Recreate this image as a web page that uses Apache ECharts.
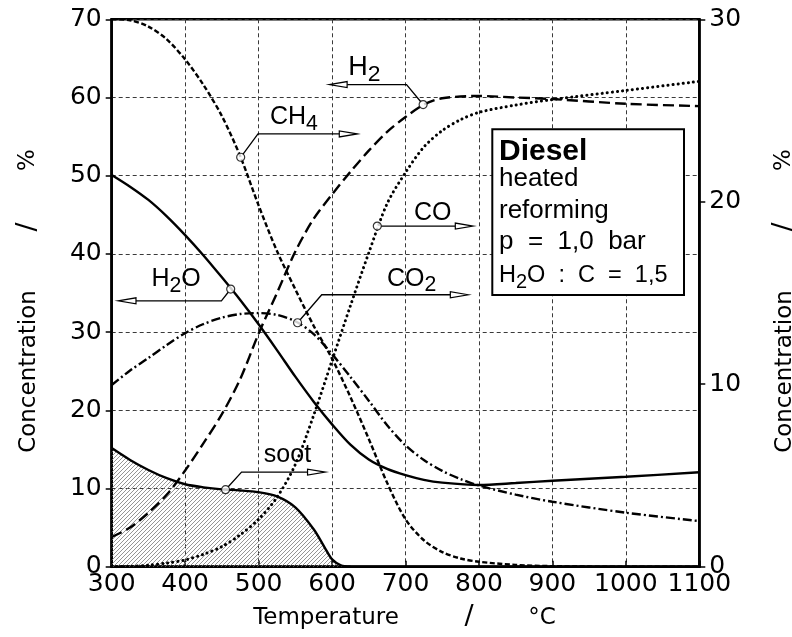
<!DOCTYPE html>
<html><head><meta charset="utf-8">
<script src="https://cdn.jsdelivr.net/npm/echarts/dist/echarts.min.js"></script>
<style>html,body{margin:0;padding:0;background:#fff}#c{width:792px;height:637px}</style>
</head><body><div id="c"></div>
<script>
// ---- data (temperature in °C, concentration in %) ----
const h2Temp  = [300,325,350,375,400,425,450,475,500,525,550,575,600,625,650,675,700,725,750,800,850,900,1000,1100];
const h2Val   = [3.8,5.0,6.9,9.2,12.3,15.8,19.5,24,29.8,35,40.3,44.5,47.6,50.5,53.2,55.6,57.5,59.1,59.9,60.2,60.0,59.8,59.2,58.9]; // left axis
const h2oTemp = [300,325,350,375,400,425,450,475,500,525,550,575,600,625,650,675,700,725,750,800,850,900,1000,1100];
const h2oVal  = [50.1,48.6,46.9,44.8,42.4,39.8,37,34.1,31,27.7,24.3,21.1,18.2,15.6,13.7,12.5,11.7,11.1,10.75,10.45,10.7,11.0,11.5,12.07]; // left axis
const ch4Temp = [300,325,350,375,400,425,450,475,500,525,550,575,600,625,650,675,700,725,750,775,800,850,900,1000,1100];
const ch4Val  = [30,29.95,29.6,28.9,27.8,26.4,24.7,22.5,19.8,17.3,15.2,13.2,11.4,9.3,7.0,4.6,2.6,1.45,0.8,0.45,0.27,0.1,0.03,0,0]; // right axis
const coTemp  = [300,325,350,375,400,425,450,475,500,525,550,575,600,625,650,675,700,725,750,775,800,850,900,1000,1100];
const coVal   = [0,0.02,0.08,0.2,0.37,0.68,1.1,1.75,2.6,3.8,5.6,8.3,11.3,14.3,17.2,19.9,21.6,23.0,23.9,24.5,24.9,25.3,25.6,26.1,26.6]; // right axis
const co2Temp = [300,325,350,375,400,425,450,475,500,525,550,575,600,625,650,675,700,725,750,775,800,850,900,1000,1100];
const co2Val  = [9.96,10.75,11.44,12.15,12.8,13.3,13.65,13.85,13.9,13.8,13.45,12.75,11.65,10.4,9.1,7.75,6.65,5.85,5.25,4.8,4.45,3.95,3.56,2.96,2.5]; // right axis
const sootTemp = [300,325,350,375,400,425,450,475,500,525,550,575,590,600,612,625];
const sootVal  = [6.5,5.85,5.3,4.85,4.52,4.35,4.24,4.18,4.08,3.85,3.25,2.05,1.05,0.4,0.08,0]; // right axis
const xTickValues = [300,400,500,600,700,800,900,1000,1100];
const leftTicks = [0,10,20,30,40,50,60,70];
const rightTicks = [0,10,20,30];
// marker points on curves: [temperature, value]
const markerH2   = [724, 59.1];
const markerCH4  = [475.6, 22.44];
const markerH2O  = [462, 35.5];
const markerCO   = [661.6, 18.67];
const markerCO2  = [553, 13.37];
const markerSoot = [455, 4.22];

function zip(t, v){ return t.map((x,i)=>[x, v[i]]); }

const TF = 'DejaVu Sans';
const LF = 'Liberation Sans';

const pat = document.createElement('canvas');
pat.width = 4; pat.height = 4;
(function(){
  const g = pat.getContext('2d');
  g.strokeStyle = '#7a7a7a'; g.lineWidth = 0.8;
  g.beginPath();
  g.moveTo(0,4); g.lineTo(4,0);
  g.moveTo(-1,1); g.lineTo(1,-1);
  g.moveTo(3,5); g.lineTo(5,3);
  g.stroke();
})();

const chart = echarts.init(document.getElementById('c'), null, {renderer:'canvas'});

const axisLabelStyle = {fontFamily:TF, fontSize:25, color:'#000', formatter:(v)=>String(v)};
const SM = 0.3;
const option = {
  animation:false,
  backgroundColor:'#fff',
  grid:{left:111.7, right:92.7, top:19.3, bottom:70.3, show:true, borderColor:'#000', borderWidth:2.5, outerBoundsMode:'none', containLabel:false},
  xAxis:{type:'value', min:xTickValues[0], max:xTickValues[xTickValues.length-1], interval:100,
    axisLine:{show:true, lineStyle:{color:'#000', width:2.5}},
    axisTick:{show:true, inside:true, length:6, lineStyle:{color:'#000', width:1.5}},
    axisLabel:Object.assign({margin:5, showMinLabel:true, showMaxLabel:true}, axisLabelStyle),
    splitLine:{show:true, lineStyle:{type:[4,3], color:'#3a3a3a', width:1}}},
  yAxis:[
    {type:'value', position:'left', min:leftTicks[0], max:leftTicks[leftTicks.length-1], interval:10,
     axisLine:{show:true, lineStyle:{color:'#000', width:2.5}},
     axisTick:{show:true, inside:false, length:6, lineStyle:{color:'#000', width:1.5}},
     axisLabel:Object.assign({margin:10, showMinLabel:true, showMaxLabel:true}, axisLabelStyle),
     splitLine:{show:true, lineStyle:{type:[4,3], color:'#3a3a3a', width:1}}},
    {type:'value', position:'right', min:rightTicks[0], max:rightTicks[rightTicks.length-1], interval:10,
     axisLine:{show:true, lineStyle:{color:'#000', width:2.5}},
     axisTick:{show:true, inside:false, length:6, lineStyle:{color:'#000', width:1.5}},
     axisLabel:Object.assign({margin:10, showMinLabel:true, showMaxLabel:true}, axisLabelStyle),
     splitLine:{show:false}}
  ],
  series:[
    {name:'soot', type:'line', yAxisIndex:1, data:zip(sootTemp,sootVal), smooth:SM, symbol:'none', z:1,
     lineStyle:{color:'#000', width:2.4}, areaStyle:{color:{image:pat, repeat:'repeat'}, opacity:1}},
    {name:'H2', type:'line', yAxisIndex:0, data:zip(h2Temp,h2Val), smooth:SM, symbol:'none', z:3,
     lineStyle:{color:'#000', width:2.4, type:[11,5]}},
    {name:'H2O', type:'line', yAxisIndex:0, data:zip(h2oTemp,h2oVal), smooth:SM, symbol:'none', z:3,
     lineStyle:{color:'#000', width:2.4}},
    {name:'CH4', type:'line', yAxisIndex:1, data:zip(ch4Temp,ch4Val), smooth:SM, symbol:'none', z:3,
     lineStyle:{color:'#000', width:2.4, type:[5,2.5]}},
    {name:'CO', type:'line', yAxisIndex:1, data:zip(coTemp,coVal), smooth:SM, symbol:'none', z:3,
     lineStyle:{color:'#000', width:3, type:[0.1,5], cap:'round'}},
    {name:'CO2', type:'line', yAxisIndex:1, data:zip(co2Temp,co2Val), smooth:SM, symbol:'none', z:3,
     lineStyle:{color:'#000', width:2.4, type:[9,3,2,3]}},
    {name:'markersLeft', type:'scatter', yAxisIndex:0, data:[markerH2, markerH2O], symbol:'circle', symbolSize:8, z:5,
     itemStyle:{color:'#fff', borderColor:'#000', borderWidth:1.2}},
    {name:'markersRight', type:'scatter', yAxisIndex:1, data:[markerCH4, markerCO, markerCO2, markerSoot], symbol:'circle', symbolSize:8, z:5,
     itemStyle:{color:'#fff', borderColor:'#000', borderWidth:1.2}}
  ]
};
chart.setOption(option);

// ---- annotations: leader lines with hollow arrows, anchored at marker points ----
const mctx = document.createElement('canvas').getContext('2d');
function measure(t, size, fam){ mctx.font = size + 'px "' + fam + '"'; return mctx.measureText(t).width; }

function chem(x, y, parts, size, fam, out){
  let cx = x;
  parts.forEach(p=>{
    const sub = p[1];
    const fs = sub ? size*0.85 : size;
    out.push({type:'text', x:cx, y:y + (sub ? size*0.27 : 0), z:100,
      style:{text:p[0], fontFamily:fam, fontSize:fs, fill:'#000', align:'left', verticalAlign:'middle'}});
    cx += measure(p[0], fs, fam);
  });
}

const annLayout = [
  {pt:markerH2,   ax:0, path:[[-16.6,-20],[-94,-20]],   dir:-1, text:[['H',0],['2',1]],          tx:-75,   ty:-37, fs:27},
  {pt:markerCH4,  ax:1, path:[[17.3,-23.3],[116.6,-23.3]], dir:1, text:[['CH',0],['4',1]],       tx:29.3,  ty:-40.3, fs:25},
  {pt:markerH2O,  ax:0, path:[[-9.3,11.7],[-112.7,11.7]], dir:-1, text:[['H',0],['2',1],['O',0]], tx:-79.3, ty:-9.8, fs:25},
  {pt:markerCO,   ax:1, path:[[96,0]],                   dir:1,  text:[['CO',0]],                 tx:36.7,  ty:-12.7, fs:25},
  {pt:markerCO2,  ax:1, path:[[24.2,-28],[170.8,-28]],   dir:1,  text:[['CO',0],['2',1]],         tx:89.5,  ty:-44, fs:25},
  {pt:markerSoot, ax:1, path:[[16,-17.6],[100,-17.6]],   dir:1,  text:[['soot',0]],               tx:38.3,  ty:-34.7, fs:25}
];

const g = [];
annLayout.forEach(a=>{
  const p = chart.convertToPixel({xAxisIndex:0, yAxisIndex:a.ax}, a.pt);
  const pts = [[p[0],p[1]]].concat(a.path.map(o=>[p[0]+o[0], p[1]+o[1]]));
  const tip = pts[pts.length-1];
  const L = 18, H = 3;
  const base = [tip[0] - a.dir*L, tip[1]];
  const linePts = pts.slice(0,-1).concat([base]);
  const d0 = [linePts[1][0]-linePts[0][0], linePts[1][1]-linePts[0][1]];
  const dl = Math.hypot(d0[0], d0[1]);
  linePts[0] = [linePts[0][0] + d0[0]/dl*4, linePts[0][1] + d0[1]/dl*4];
  g.push({type:'polyline', z:90, shape:{points:linePts}, style:{stroke:'#000', lineWidth:1.3, fill:null}});
  g.push({type:'polygon', z:90, shape:{points:[tip,[base[0],base[1]-H],[base[0],base[1]+H]]},
          style:{stroke:'#000', lineWidth:1.2, fill:'#fff'}});
  chem(p[0]+a.tx, p[1]+a.ty, a.text, a.fs, LF, g);
});

// info box
g.push({type:'rect', z:95, shape:{x:492.3, y:129.3, width:191.7, height:165.7},
        style:{fill:'#fff', stroke:'#000', lineWidth:2}});
g.push({type:'text', z:100, x:499, y:152, style:{text:'Diesel', fontFamily:LF, fontSize:30, fontWeight:'bold', fill:'#000', align:'left', verticalAlign:'middle'}});
g.push({type:'text', z:100, x:499, y:179, style:{text:'heated', fontFamily:LF, fontSize:26, fill:'#000', align:'left', verticalAlign:'middle'}});
g.push({type:'text', z:100, x:499, y:211, style:{text:'reforming', fontFamily:LF, fontSize:26, fill:'#000', align:'left', verticalAlign:'middle'}});
g.push({type:'text', z:100, x:499, y:241.5, style:{text:'p  =  1,0  bar', fontFamily:LF, fontSize:26, fill:'#000', align:'left', verticalAlign:'middle'}});
chem(499, 276, [['H',0],['2',1],['O  :  C  =  1,5',0]], 23.5, LF, g);

// axis names
g.push({type:'text', z:100, x:326, y:618, style:{text:'Temperature', fontFamily:TF, fontSize:23, fill:'#000', align:'center', verticalAlign:'middle'}});
g.push({type:'text', z:100, x:469, y:617, style:{text:'/', fontFamily:TF, fontSize:27, fill:'#000', align:'center', verticalAlign:'middle'}});
g.push({type:'text', z:100, x:542, y:618, style:{text:'°C', fontFamily:TF, fontSize:23, fill:'#000', align:'center', verticalAlign:'middle'}});
[0, 756].forEach(dx=>{
  g.push({type:'text', z:100, x:29+dx, y:371.5, rotation:Math.PI/2, style:{text:'Concentration', fontFamily:TF, fontSize:23, fill:'#000', align:'center', verticalAlign:'middle'}});
  g.push({type:'text', z:100, x:28+dx, y:227, rotation:Math.PI/2, style:{text:'/', fontFamily:TF, fontSize:27, fill:'#000', align:'center', verticalAlign:'middle'}});
  g.push({type:'text', z:100, x:28+dx, y:160, rotation:Math.PI/2, style:{text:'%', fontFamily:TF, fontSize:23, fill:'#000', align:'center', verticalAlign:'middle'}});
});

chart.setOption({graphic:{elements:g}});
</script>
</body></html>
